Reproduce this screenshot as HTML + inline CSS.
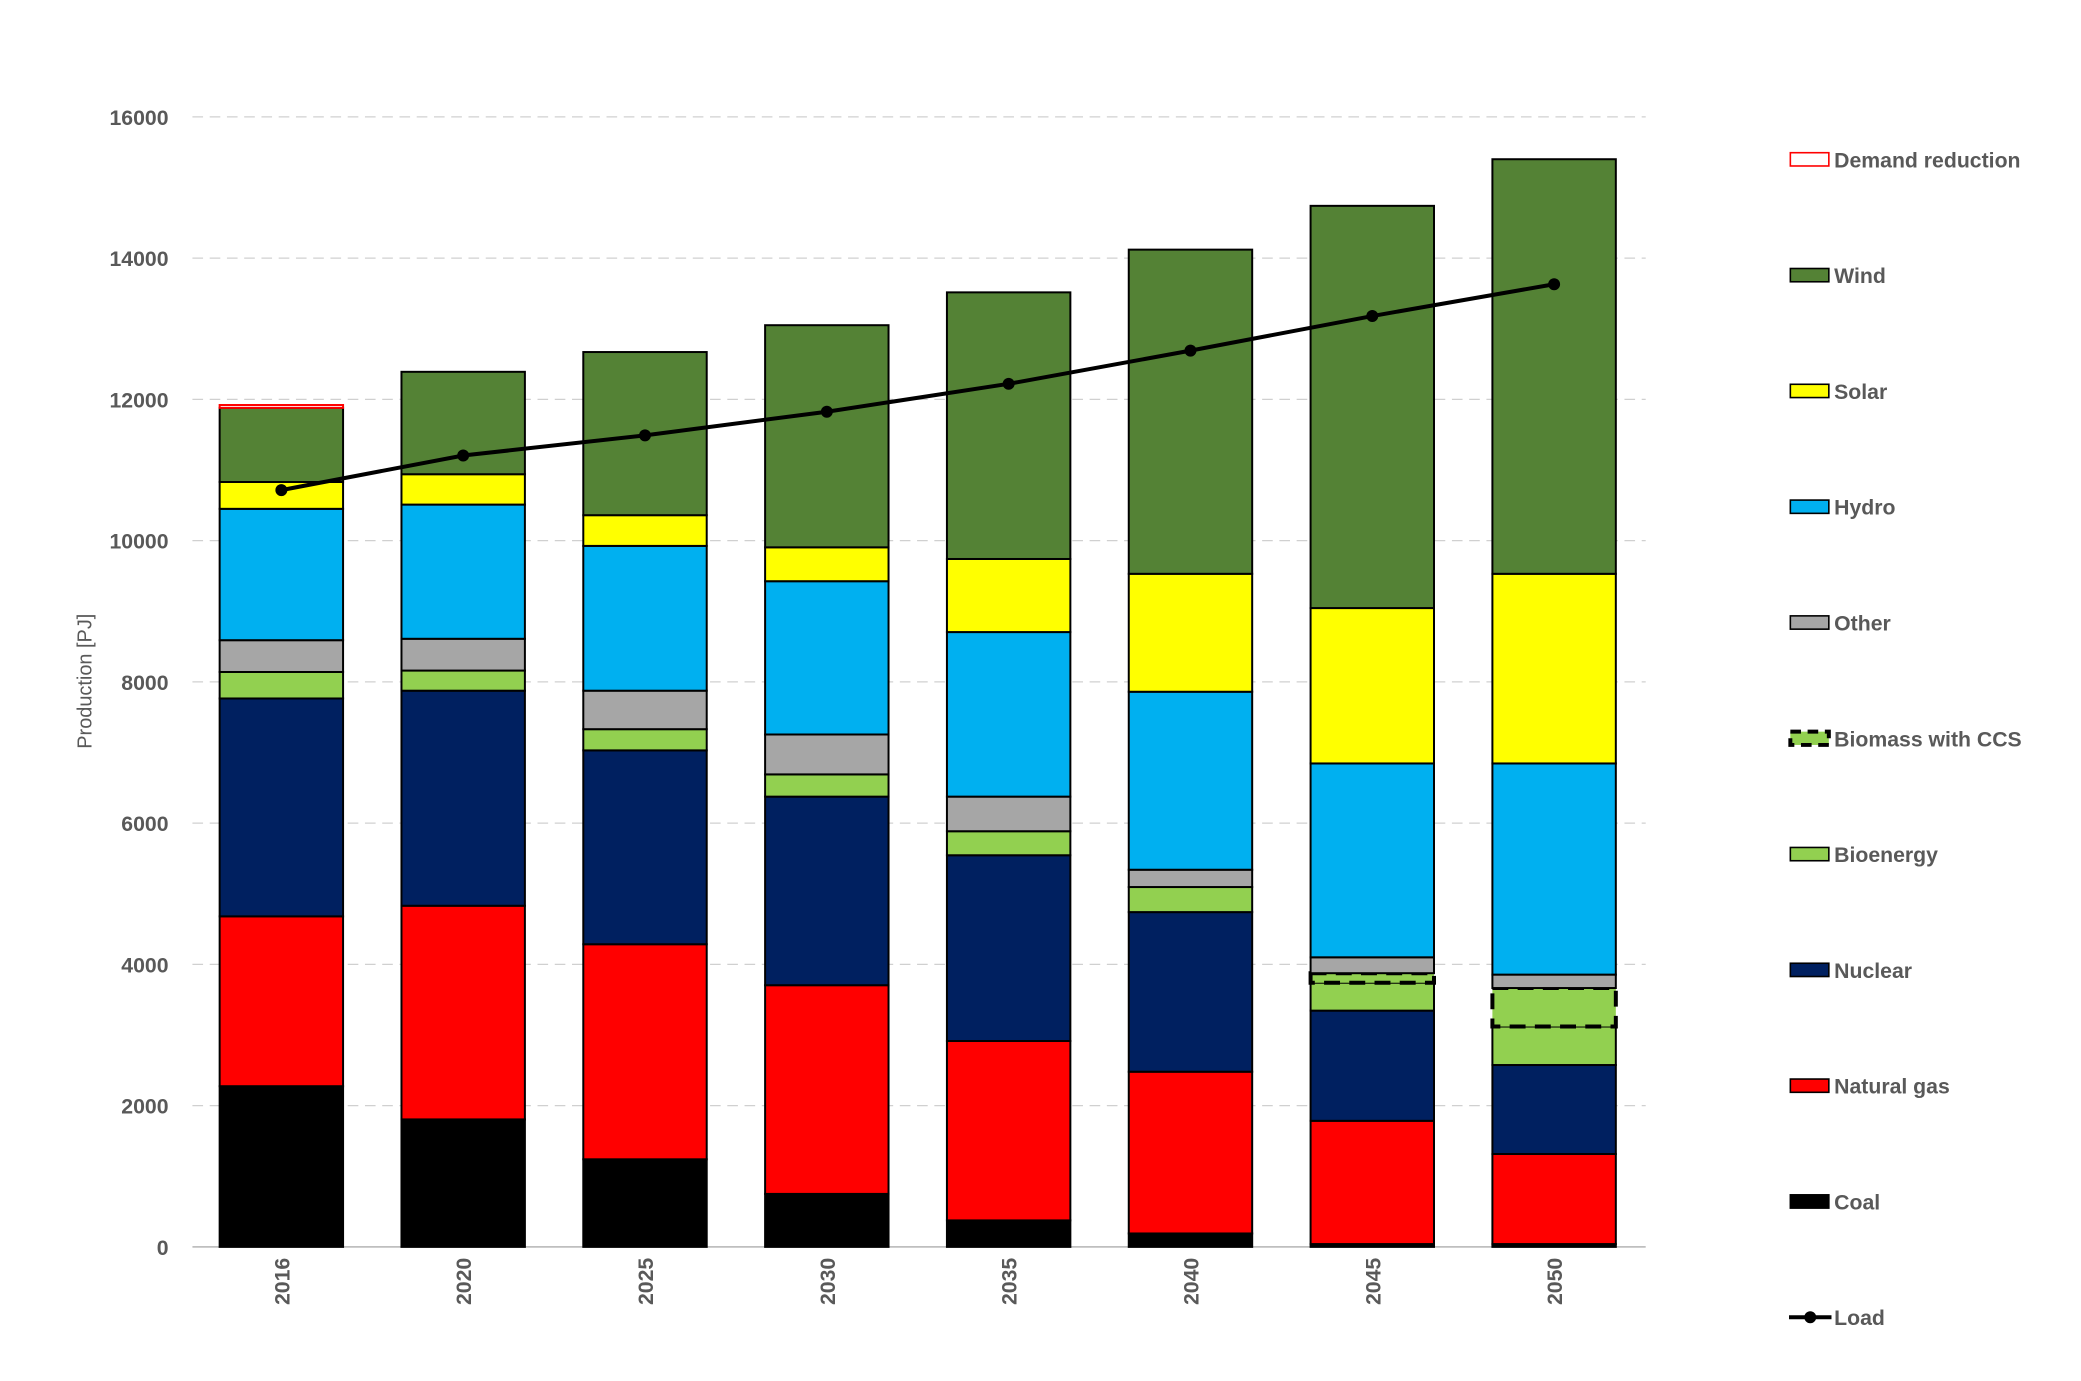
<!DOCTYPE html>
<html><head><meta charset="utf-8"><style>
html,body{margin:0;padding:0;background:#fff;}
svg{display:block;font-family:"Liberation Sans",sans-serif;}
</style></head><body>
<svg id="chart" width="2081" height="1381" viewBox="0 0 1568 1040" preserveAspectRatio="none" xmlns="http://www.w3.org/2000/svg">
<text transform="translate(69,513) rotate(-90)" text-anchor="middle" font-size="15" fill="#595959">Production [PJ]</text>
<g id="grid"></g><g id="bars"></g><g id="line"></g><g id="legend"></g>
</svg>
<script>
const categories=["2016","2020","2025","2030","2035","2040","2045","2050"];
const coal=[2275,1805,1240,750,375,190,40,40];
const naturalGas=[2405,3025,3045,2955,2540,2290,1745,1275];
const nuclear=[3085,3045,2745,2670,2630,2260,1560,1260];
const bioenergy=[375,285,300,315,340,355,395,545];
const biomassCCS=[0,0,0,0,0,0,135,545];
const other=[450,450,545,565,490,245,225,190];
const hydro=[1860,1900,2050,2170,2330,2520,2745,2990];
const solar=[380,430,435,480,1035,1670,2200,2685];
const wind=[1050,1450,2310,3145,3775,4590,5695,5870];
const demandReduction=[40,0,0,0,0,0,0,0];
const load=[10715,11205,11490,11825,12220,12690,13180,13630];
const yTicks=[0,2000,4000,6000,8000,10000,12000,14000,16000];

const NS="http://www.w3.org/2000/svg";
const x0=145,x1=1240,yBase=939,yTop=88,yMax=16000,step=137,bw=93;
const y=v=>yBase-(v/yMax)*(yBase-yTop);
const xc=i=>212+i*step;
function mk(tag,attrs,parent,text){const e=document.createElementNS(NS,tag);for(const k in attrs)e.setAttribute(k,attrs[k]);if(text!==undefined)e.textContent=text;parent.appendChild(e);return e;}
const grid=document.getElementById('grid');
yTicks.forEach(t=>{
  if(t>0){const g=mk('line',{x1:x0,x2:x1,y1:y(t),y2:y(t),stroke:'#d0d0d0','stroke-width':1,'stroke-dasharray':'8,5'},grid);
  
  }
  const l=mk('text',{x:127,y:y(t)+6,'text-anchor':'end','font-size':16,'font-weight':'bold',fill:'#595959'},grid,String(t));
  
  
});
const ax=mk('line',{x1:x0,x2:x1,y1:yBase,y2:yBase,stroke:'#bfbfbf','stroke-width':1.3},grid);



const series=[
 {name:'coal',label:'Coal',vals:coal,fill:'#000000'},
 {name:'natural-gas',label:'Natural gas',vals:naturalGas,fill:'#ff0000'},
 {name:'nuclear',label:'Nuclear',vals:nuclear,fill:'#002060'},
 {name:'bioenergy',label:'Bioenergy',vals:bioenergy,fill:'#92d050'},
 {name:'biomass-ccs',label:'Biomass with CCS',vals:biomassCCS,fill:'#92d050',dash:true},
 {name:'other',label:'Other',vals:other,fill:'#a6a6a6'},
 {name:'hydro',label:'Hydro',vals:hydro,fill:'#00b0f0'},
 {name:'solar',label:'Solar',vals:solar,fill:'#ffff00'},
 {name:'wind',label:'Wind',vals:wind,fill:'#548235'},
 {name:'demand-reduction',label:'Demand reduction',vals:demandReduction,fill:'#ffffff',stroke:'#ff0000'}
];
const bars=document.getElementById('bars');
categories.forEach((c,i)=>{
  let cum=0;
  series.forEach(s=>{
    const v=s.vals[i]; if(v<=0)return;
    const top=y(cum+v),bot=y(cum);cum+=v;
    const r=mk('rect',{x:xc(i)-bw/2,y:top,width:bw,height:bot-top,fill:s.fill,
      stroke:s.stroke||'#000','stroke-width':s.dash?3:1.5,'stroke-dasharray':s.dash?'12,7':'none'},bars);
    
    
  });
  const t=mk('text',{transform:`translate(${xc(i)+6},${965}) rotate(-90)`,'text-anchor':'middle','font-size':16,'font-weight':'bold',fill:'#595959'},bars,c);
  
  
});
const lg=document.getElementById('line');
const pl=mk('polyline',{points:load.map((v,i)=>xc(i)+','+y(v)).join(' '),fill:'none',stroke:'#000','stroke-width':3},lg);


load.forEach((v,i)=>{const p=mk('circle',{cx:xc(i),cy:y(v),r:4.5,fill:'#000'},lg);
  
  });

const legend=document.getElementById('legend');
const order=[...series].reverse();
order.forEach((s,k)=>{
  const yy=120+k*87.2;
  const g=mk('g',{},legend);
  
  
  mk('rect',{x:1349,y:yy-5,width:29,height:10,fill:s.fill,stroke:s.stroke||'#000','stroke-width':s.dash?3:1.2,'stroke-dasharray':s.dash?'8,5':'none'},g);
  mk('text',{x:1382,y:yy+6,'font-size':16,'font-weight':'bold',fill:'#595959'},g,s.label);
});
const ly=120+10*87.2;
const gl=mk('g',{},legend);


mk('line',{x1:1348,x2:1380,y1:ly,y2:ly,stroke:'#000','stroke-width':3},gl);
mk('circle',{cx:1364,cy:ly,r:4.5,fill:'#000'},gl);
mk('text',{x:1382,y:ly+6,'font-size':16,'font-weight':'bold',fill:'#595959'},gl,'Load');
</script>
</body></html>
